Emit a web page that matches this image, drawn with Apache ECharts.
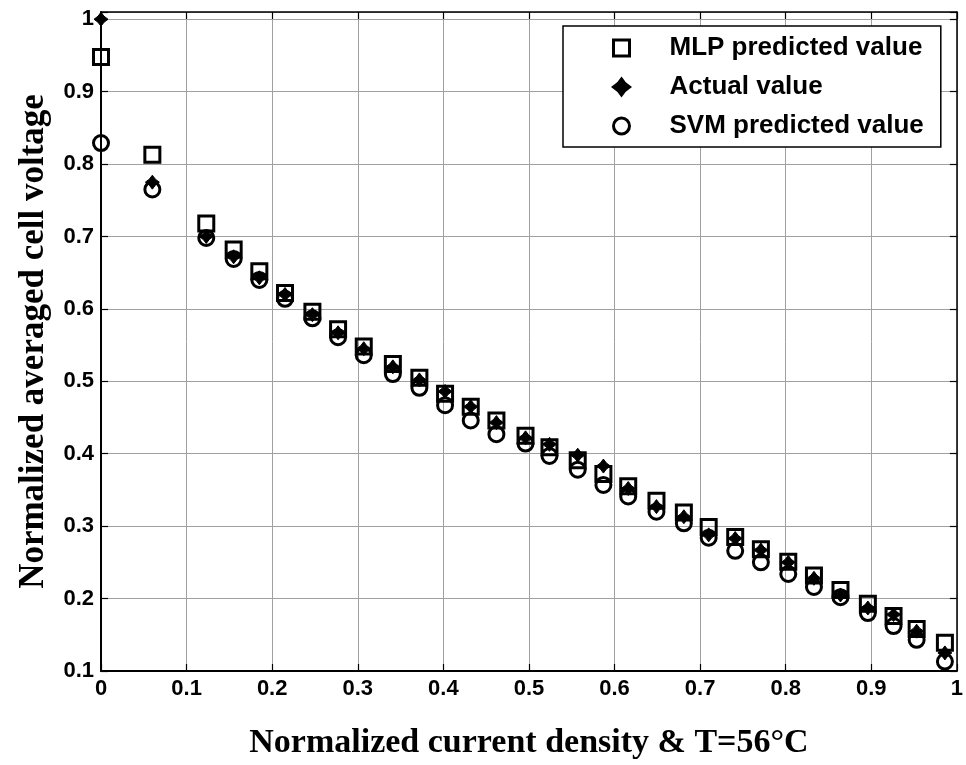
<!DOCTYPE html>
<html>
<head>
<meta charset="utf-8">
<script src="https://cdn.jsdelivr.net/npm/echarts@6/dist/echarts.min.js"></script>
<style>html,body{margin:0;padding:0;background:#fff;}#c{width:966px;height:765px;}</style>
</head>
<body>
<div id="c"></div>
<script>
var xValues = [0, 0.060, 0.123, 0.155, 0.185, 0.215, 0.247, 0.277, 0.307, 0.341, 0.372, 0.402, 0.432, 0.462, 0.496, 0.524, 0.557, 0.587, 0.616, 0.649, 0.681, 0.710, 0.741, 0.771, 0.803, 0.833, 0.864, 0.896, 0.926, 0.953, 0.986];
var mlpValues = [0.948, 0.813, 0.718, 0.682, 0.652, 0.622, 0.596, 0.572, 0.548, 0.524, 0.505, 0.483, 0.465, 0.446, 0.425, 0.409, 0.391, 0.372, 0.355, 0.335, 0.319, 0.299, 0.285, 0.268, 0.251, 0.232, 0.212, 0.193, 0.176, 0.158, 0.139];
var actualValues = [1.0, 0.775, 0.700, 0.672, 0.643, 0.620, 0.592, 0.567, 0.545, 0.520, 0.502, 0.486, 0.465, 0.443, 0.422, 0.413, 0.398, 0.383, 0.352, 0.327, 0.313, 0.288, 0.283, 0.267, 0.250, 0.228, 0.205, 0.187, 0.178, 0.155, 0.125];
var svmValues = [0.829, 0.765, 0.698, 0.669, 0.640, 0.614, 0.587, 0.561, 0.536, 0.510, 0.491, 0.467, 0.446, 0.427, 0.414, 0.397, 0.378, 0.357, 0.341, 0.320, 0.304, 0.284, 0.266, 0.250, 0.234, 0.216, 0.202, 0.180, 0.162, 0.143, 0.113];
var seriesNames = ['MLP predicted value', 'Actual value', 'SVM predicted value'];
var xTitle = 'Normalized current density & T=56\u00B0C';
var yTitle = 'Normalized averaged cell voltage';

function pairs(ys) { return xValues.map(function (x, i) { return [x, ys[i]]; }); }

var chart = echarts.init(document.getElementById('c'), null, { renderer: 'canvas' });
var squarePath = 'path://M0,0 L10,0 L10,10 L0,10 Z';
var starPath = 'path://M0,-10 L4.3,-4.3 L10,0 L4.3,4.3 L0,10 L-4.3,4.3 L-10,0 L-4.3,-4.3 Z';
var sansLabel = { fontFamily: 'Liberation Sans', fontWeight: 'bold', fontSize: 22, color: '#000' };
var tickStyle = { show: true, inside: true, length: 7, lineStyle: { color: '#000', width: 1.2 } };

chart.setOption({
  animation: false,
  backgroundColor: '#fff',
  grid: { left: 101, right: 8, top: 12, bottom: 82, containLabel: false },
  legend: {
    orient: 'vertical',
    left: 563, top: 26,
    padding: [9, 17, 8, 49],
    itemWidth: 86, itemHeight: 16, itemGap: 13,
    itemStyle: { borderWidth: 3 },
    backgroundColor: '#fff', borderColor: '#000', borderWidth: 1.5,
    textStyle: { fontFamily: 'Liberation Sans', fontWeight: 'bold', fontSize: 26, color: '#000' },
    data: seriesNames
  },
  xAxis: [{
    type: 'value', min: 0, max: 1, interval: 0.1, position: 'bottom',
    name: xTitle, nameLocation: 'middle', nameGap: 55,
    nameTextStyle: { fontFamily: 'Liberation Serif', fontWeight: 'bold', fontSize: 34, color: '#000' },
    axisLine: { show: true, onZero: false, lineStyle: { color: '#000', width: 2 } },
    axisTick: tickStyle,
    axisLabel: Object.assign({ margin: 7 }, sansLabel),
    splitLine: { show: true, lineStyle: { color: '#a0a0a0', width: 1 } }
  }, {
    type: 'value', min: 0, max: 1, interval: 0.1, position: 'top',
    axisLine: { show: true, onZero: false, lineStyle: { color: '#000', width: 1.5 } },
    axisTick: tickStyle, axisLabel: { show: false }, splitLine: { show: false }
  }],
  yAxis: [{
    type: 'value', min: 0.1, max: 1.01, interval: 0.1, position: 'left',
    name: yTitle, nameLocation: 'middle', nameGap: 50, nameRotate: 90,
    nameTextStyle: { fontFamily: 'Liberation Serif', fontWeight: 'bold', fontSize: 35, color: '#000' },
    axisLine: { show: true, onZero: false, lineStyle: { color: '#000', width: 2 } },
    axisTick: tickStyle,
    axisLabel: Object.assign({ margin: 7, formatter: function (v) { return v > 1.005 ? '' : String(Math.round(v * 10) / 10); } }, sansLabel),
    splitLine: { show: true, lineStyle: { color: '#a0a0a0', width: 1 } }
  }, {
    type: 'value', min: 0.1, max: 1.01, interval: 0.1, position: 'right',
    axisLine: { show: true, onZero: false, lineStyle: { color: '#000', width: 1.5 } },
    axisTick: tickStyle, axisLabel: { show: false }, splitLine: { show: false }
  }],
  series: [{
    name: seriesNames[0], type: 'scatter', clip: false, z: 3,
    symbol: squarePath, symbolKeepAspect: true, symbolSize: 15,
    itemStyle: { color: 'rgba(255,255,255,0)', borderColor: '#000', borderWidth: 3, opacity: 1 },
    data: pairs(mlpValues)
  }, {
    name: seriesNames[1], type: 'scatter', clip: false, z: 4,
    symbol: starPath, symbolKeepAspect: true, symbolSize: 14,
    itemStyle: { color: '#000', borderColor: '#000', borderWidth: 1, opacity: 1 },
    data: pairs(actualValues)
  }, {
    name: seriesNames[2], type: 'scatter', clip: false, z: 5,
    symbol: 'circle', symbolSize: 15,
    itemStyle: { color: 'rgba(255,255,255,0)', borderColor: '#000', borderWidth: 3, opacity: 1 },
    data: pairs(svmValues)
  }]
});
</script>
</body>
</html>
